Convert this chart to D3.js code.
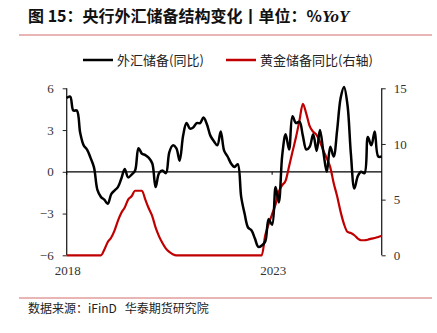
<!DOCTYPE html>
<html>
<head>
<meta charset="utf-8">
<script src="https://cdn.jsdelivr.net/npm/d3@7"></script>
<style>
  html, body { margin: 0; padding: 0; background: #fff; }
  svg { display: block; }
</style>
</head>
<body>
<svg id="chart" width="437" height="333"></svg>
<script>
// Monthly observations, Jan 2018 – Sep 2025
const startYear = 2018;
const fxReserveYoY = [
  5.3, 5.4, 4.4, 4.4, 2.8, 1.9, 1.6, 1.0, 0.3, -1.3, -1.8, -2.0,
  -2.3, -1.6, -1.35, -1.1, -0.5, 0.2, -0.4, -0.2, 0.1, 1.7, 1.3, 1.2,
  1.0, 0.6, -1.1, -0.1, 0.1, -0.1, 1.4, 1.9, 1.7, 0.8, 2.6, 3.5,
  3.1, 3.2, 3.5, 3.5, 3.9, 3.4, 2.6, 2.2, 1.9, 2.9, 1.5, 1.1,
  0.6, 0.35, 0.55, -1.8, -3.0, -4.0, -4.2, -4.8, -5.4, -5.3, -5.0, -3.4,
  -3.8, -1.1, -2.2, 1.2, 2.7, 1.6, 4.0, 3.5, 3.6, 2.6, 1.6, 1.8,
  2.7, 1.5, 3.0, 1.4, 0.0, 1.8, 1.1, 3.0, 5.3, 6.1, 4.8, 1.3,
  -1.2, -0.3, 0.0, -0.1, 2.5, 1.9, 2.9, 1.1, 1.1
];
const goldReserveYoY = [
  0, 0, 0, 0, 0, 0, 0, 0, 0, 0, 0, 0.5,
  1.2, 1.6, 2.2, 3.1, 3.8, 4.3, 5.0, 5.3, 5.8, 5.8, 5.8, 5.0,
  4.2, 3.5, 2.5, 1.7, 1.1, 0.6, 0.3, 0.1, 0, 0, 0, 0,
  0, 0, 0, 0, 0, 0, 0, 0, 0, 0, 0, 0,
  0, 0, 0, 0, 0, 0, 0, 0, 0, 0, 1.8, 2.8,
  3.7, 4.6, 5.7, 6.3, 6.7, 8.0, 9.3, 10.6, 12.1, 13.6, 12.7, 11.6,
  11.1, 10.8, 10.2, 9.4, 8.7, 7.9, 6.5, 5.3, 3.9, 2.8, 2.1, 2.0,
  1.8, 1.5, 1.35, 1.35, 1.4, 1.5, 1.55, 1.65, 1.75
];
const leftTicks = [-6, -3, 0, 3, 6];
const rightTicks = [0, 5, 10, 15];
const xTickYears = [2018, 2023];
const seriesNames = ["外汇储备(同比)", "黄金储备同比(右轴)"];
const titleText = "图 15：央行外汇储备结构变化丨单位：%";
const titleUnit = "YoY";
const sourceText = "数据来源：iFinD   华泰期货研究院";

const dates = fxReserveYoY.map((_, i) => new Date(startYear, i, 1));

const svg = d3.select("#chart");
const plot = { left: 66.7, right: 381.7, top: 88.3, bottom: 255.3 };

const x = d3.scaleTime()
  .domain([new Date(startYear, 0, 1), dates[dates.length - 1]])
  .range([plot.left, plot.right]);
const yL = d3.scaleLinear().domain([-6, 6]).range([plot.bottom, plot.top]);
const yR = d3.scaleLinear().domain([0, 15]).range([plot.bottom, plot.top]);

const cjk = "'Noto Sans CJK SC', 'Noto Sans', sans-serif";
const serif = "'Liberation Serif', 'DejaVu Serif', serif";

// Title
const title = svg.append("text")
  .attr("x", 28).attr("y", 21.5)
  .attr("font-family", cjk).attr("font-weight", "bold")
  .attr("font-size", 16).attr("fill", "#111")
  .text(titleText);
title.append("tspan")
  .attr("font-family", serif).attr("font-style", "italic")
  .attr("font-size", 17)
  .text(titleUnit);

// Title and footer rules
svg.append("line").attr("x1", 19).attr("x2", 432).attr("y1", 35).attr("y2", 35)
  .attr("stroke", "#d46a6a").attr("stroke-width", 1);
svg.append("line").attr("x1", 19).attr("x2", 432).attr("y1", 298).attr("y2", 298)
  .attr("stroke", "#d46a6a").attr("stroke-width", 1);

// Source note (keep the run of spaces)
svg.append("text")
  .attr("x", 28).attr("y", 313)
  .style("white-space", "pre")
  .attr("font-family", cjk).attr("font-size", 12).attr("fill", "#222")
  .text(sourceText);

// Legend
const legend = svg.append("g").attr("font-family", cjk).attr("font-size", 13).attr("fill", "#222");
const legendItems = [
  { name: seriesNames[0], color: "#000", x: 83 },
  { name: seriesNames[1], color: "#c00000", x: 226 }
];
legendItems.forEach(d => {
  legend.append("line").attr("x1", d.x).attr("x2", d.x + 30).attr("y1", 60).attr("y2", 60)
    .attr("stroke", d.color).attr("stroke-width", 2.5);
  legend.append("text").attr("x", d.x + 34).attr("y", 64.5).text(d.name);
});

// Left axis
const axisL = svg.append("g")
  .attr("transform", `translate(${plot.left},0)`)
  .call(d3.axisLeft(yL).tickValues(leftTicks).tickSize(4).tickPadding(9).tickFormat(d3.format("d")));
// Right axis
const axisR = svg.append("g")
  .attr("transform", `translate(${plot.right},0)`)
  .call(d3.axisRight(yR).tickValues(rightTicks).tickSize(4).tickPadding(8).tickFormat(d3.format("d")));
[axisL, axisR].forEach(g => {
  g.select(".domain").attr("stroke", "#222").attr("stroke-width", 1.3)
    .attr("d", `M0,${plot.top}V${plot.bottom}`);
  g.selectAll(".tick line").attr("stroke", "#222").attr("stroke-width", 1);
  g.selectAll(".tick text").attr("font-family", serif).attr("font-size", 13).attr("fill", "#333");
});

// Zero baseline
svg.append("line")
  .attr("x1", plot.left).attr("x2", plot.right)
  .attr("y1", yL(0)).attr("y2", yL(0))
  .attr("stroke", "#000").attr("stroke-width", 1.2);

// Year ticks and labels
const xAxis = svg.append("g");
xTickYears.forEach(yr => {
  const px = x(new Date(yr, 0, 1));
  xAxis.append("line").attr("x1", px).attr("x2", px)
    .attr("y1", yL(0)).attr("y2", yL(0) + 3).attr("stroke", "#000");
  xAxis.append("text").attr("x", px + 1).attr("y", 275)
    .attr("text-anchor", "middle")
    .attr("font-family", serif).attr("font-size", 13).attr("fill", "#333")
    .text(yr);
});

// Series lines
const lineFx = d3.line()
  .x((d, i) => x(dates[i])).y(d => yL(d))
  .curve(d3.curveCatmullRom.alpha(0.5));
const lineGold = d3.line()
  .x((d, i) => x(dates[i])).y(d => yR(d))
  .curve(d3.curveMonotoneX);

svg.append("path").datum(goldReserveYoY)
  .attr("d", lineGold).attr("fill", "none")
  .attr("stroke", "#c00000").attr("stroke-width", 2.2)
  .attr("stroke-linejoin", "round");
svg.append("path").datum(fxReserveYoY)
  .attr("d", lineFx).attr("fill", "none")
  .attr("stroke", "#000").attr("stroke-width", 2.5)
  .attr("stroke-linejoin", "round");
</script>
</body>
</html>
